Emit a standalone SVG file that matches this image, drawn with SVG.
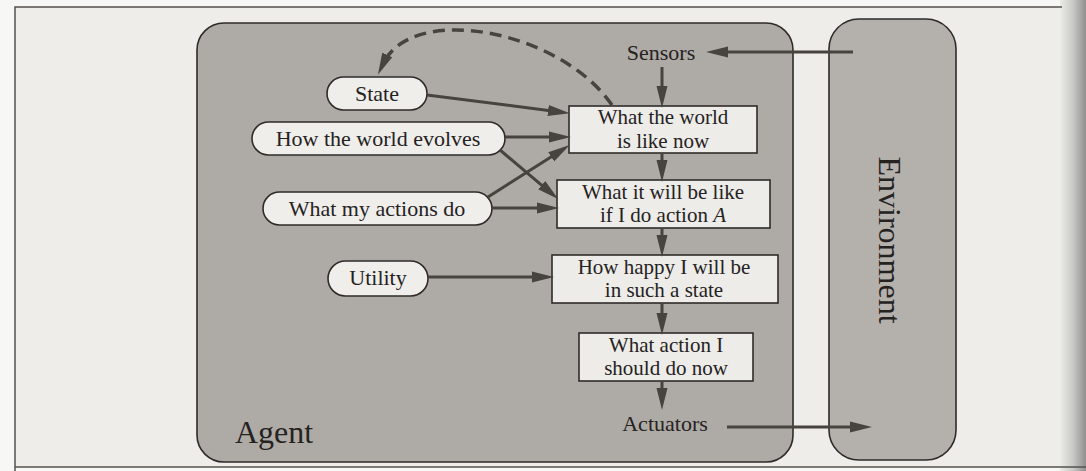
<svg xmlns="http://www.w3.org/2000/svg" width="1086" height="471" viewBox="0 0 1086 471">
  <defs>
    <linearGradient id="spine" x1="0" y1="0" x2="1" y2="0">
      <stop offset="0" stop-color="#ebebe7"/>
      <stop offset="0.5" stop-color="#c9c9c6"/>
      <stop offset="1" stop-color="#8f8f8d"/>
    </linearGradient>
    <marker id="head" viewBox="0 0 22 12" refX="10" refY="6" markerWidth="22" markerHeight="12" markerUnits="userSpaceOnUse" orient="auto">
      <path d="M0,0.5 L22,6 L0,11.5 Z" fill="#47433e"/>
    </marker>
  </defs>
  <style>
    .page { fill: #eeede9; }
    .frame { stroke: #55524e; stroke-width: 1.5; fill: none; }
    .region { stroke: #2e2b28; stroke-width: 1.6; }
    .agent { fill: #aeaba6; }
    .env { fill: #b4b1ac; }
    .pill { fill: #efeeea; stroke: #2e2b28; stroke-width: 1.6; }
    .box { fill: #edece8; stroke: #2e2b28; stroke-width: 1.6; }
    .t { font-family: "Liberation Serif", "Times New Roman", serif; fill: #25221f; text-anchor: middle; }
    .lbl { font-size: 22px; }
    .two { font-size: 21px; }
    .big { font-size: 32px; }
    .edge { stroke: #47433e; stroke-width: 3; fill: none; marker-end: url(#head); }
    .dash { stroke: #47433e; stroke-width: 3.5; fill: none; stroke-dasharray: 12 7; marker-end: url(#head); }
  </style>

  <!-- paper -->
  <rect x="0" y="0" width="1086" height="471" fill="#f7f7f5"/>
  <rect class="page" x="15" y="7" width="1071" height="460"/>
  <rect x="1060" y="0" width="26" height="471" fill="url(#spine)"/>
  <path class="frame" d="M15,471 L15,7 L1062,7"/>
  <path class="frame" d="M15,467 L1086,467" stroke="#8a8884"/>

  <!-- outer regions -->
  <g id="agent">
    <rect class="region agent" x="197" y="23" width="596" height="439" rx="27" ry="27"/>
    <text class="t big" x="274" y="443">Agent</text>
  </g>
  <g id="environment">
    <rect class="region env" x="829" y="19" width="127" height="441" rx="30" ry="30"/>
    <text class="t big" transform="translate(879,240) rotate(90)">Environment</text>
  </g>

  <!-- agent components -->
  <g id="sensors">
    <text class="t lbl" x="661" y="60">Sensors</text>
  </g>
  <g id="actuators">
    <text class="t lbl" x="665" y="431">Actuators</text>
  </g>
  <g id="state">
    <rect class="pill" x="327" y="77" width="100" height="33" rx="16.5"/>
    <text class="t lbl" x="377" y="101">State</text>
  </g>
  <g id="how-world-evolves">
    <rect class="pill" x="252" y="122" width="253" height="33" rx="16.5"/>
    <text class="t lbl" x="378" y="146">How the world evolves</text>
  </g>
  <g id="what-my-actions-do">
    <rect class="pill" x="263" y="192" width="229" height="33" rx="16.5"/>
    <text class="t lbl" x="377" y="216">What my actions do</text>
  </g>
  <g id="utility">
    <rect class="pill" x="328" y="261" width="100" height="35" rx="17.5"/>
    <text class="t lbl" x="378" y="285">Utility</text>
  </g>
  <g id="world-now">
    <rect class="box" x="569" y="106" width="188" height="47"/>
    <text class="t two" y="124"><tspan x="663">What the world</tspan><tspan x="663" dy="23.5">is like now</tspan></text>
  </g>
  <g id="world-after-action">
    <rect class="box" x="557" y="180" width="213" height="48"/>
    <text class="t two" y="198.5"><tspan x="663">What it will be like</tspan><tspan x="663" dy="23.5">if I do action <tspan font-style="italic">A</tspan></tspan></text>
  </g>
  <g id="happiness">
    <rect class="box" x="552" y="255" width="226" height="48"/>
    <text class="t two" y="273.5"><tspan x="664">How happy I will be</tspan><tspan x="664" dy="23.5">in such a state</tspan></text>
  </g>
  <g id="action-choice">
    <rect class="box" x="579" y="333" width="174" height="48"/>
    <text class="t two" y="351.5"><tspan x="666">What action I</tspan><tspan x="666" dy="23.5">should do now</tspan></text>
  </g>

  <!-- connectors -->
  <g id="connectors">
    <path class="edge" d="M853,52 L718,52"/>
    <path class="edge" d="M662,67 L662,96"/>
    <path class="edge" d="M427,95 L558,111.7"/>
    <path class="edge" d="M505,137 L559,137"/>
    <path class="edge" d="M500,150 L549.3,191.6"/>
    <path class="edge" d="M488,197 L559.6,151.4"/>
    <path class="edge" d="M492,208 L547,208"/>
    <path class="edge" d="M662,153 L662,170"/>
    <path class="edge" d="M662,228 L662,245"/>
    <path class="edge" d="M428,277 L542,277"/>
    <path class="edge" d="M662,303 L662,323"/>
    <path class="edge" d="M662,381 L662,398"/>
    <path class="edge" d="M727,427 L860,427"/>
    <path class="dash" d="M612,105 C560,30 412,2 383,64"/>
  </g>
</svg>
